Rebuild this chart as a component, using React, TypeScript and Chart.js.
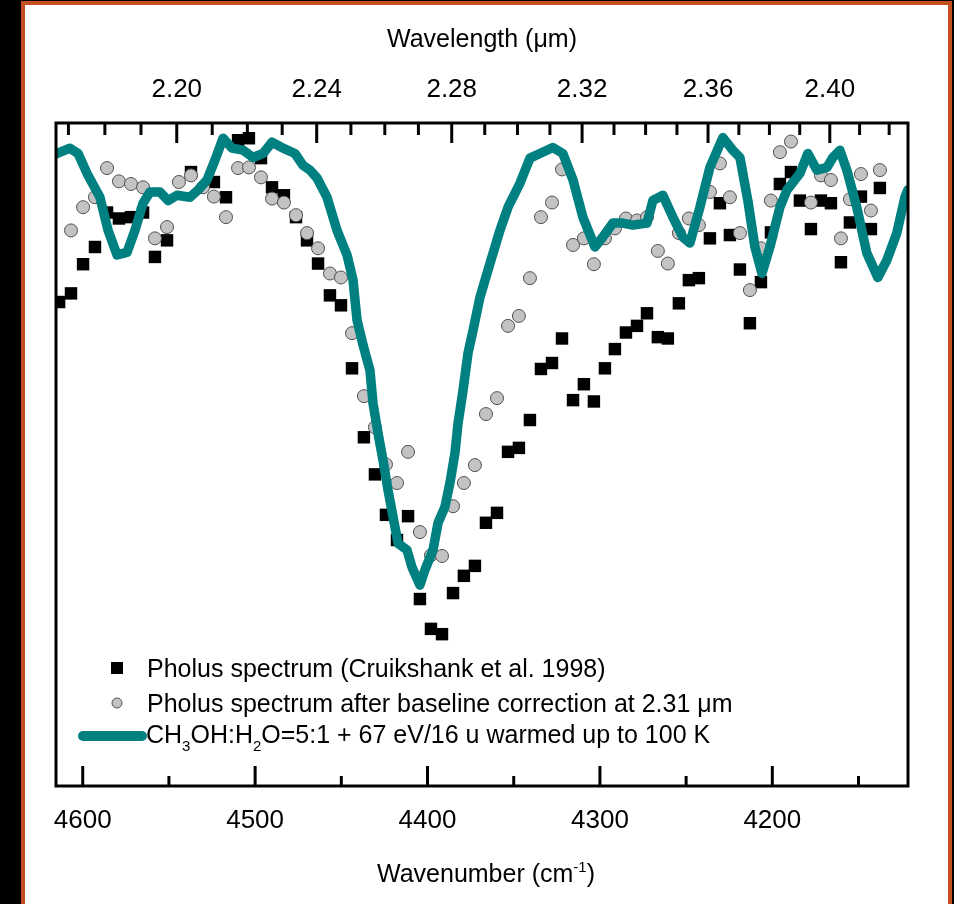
import React, { useEffect, useRef } from "react";
import { Chart, registerables } from "chart.js";

Chart.register(...registerables);

const FONT = "'Liberation Sans', Arial, Helvetica, sans-serif";

// Shared wavenumber grid of the Pholus spectrum (cm^-1)
const wavenumbers = [
  4613.7, 4606.8, 4599.8, 4592.9, 4585.9, 4579.0, 4572.0, 4565.0, 4558.1, 4551.1,
  4544.2, 4537.2, 4530.2, 4523.9, 4516.9, 4509.9, 4503.6, 4496.6, 4490.2, 4483.3,
  4476.3, 4469.9, 4463.5, 4456.6, 4450.2, 4443.8, 4436.9, 4430.5, 4424.1, 4417.7,
  4411.3, 4404.4, 4398.0, 4391.6, 4385.2, 4378.9, 4372.5, 4366.1, 4359.7, 4353.3,
  4347.0, 4340.6, 4334.2, 4327.8, 4322.0, 4315.6, 4309.3, 4303.5, 4297.1, 4291.3,
  4284.9, 4278.5, 4272.7, 4266.4, 4260.6, 4254.2, 4248.4, 4242.6, 4236.2, 4230.4,
  4224.6, 4218.8, 4213.0, 4206.6, 4200.8, 4195.6, 4189.2, 4184.0, 4177.6, 4171.8,
  4166.0, 4160.2, 4155.0, 4148.6, 4142.8, 4137.6,
];

// Pholus spectrum (Cruikshank et al. 1998), relative units
const pholusRaw = [
  73.0, 74.3, 78.7, 81.3, 86.5, 85.6, 85.8, 86.5, 79.8, 82.3,
  null, 92.6, null, 91.1, 88.8, 97.4, 97.7, 94.7, 90.3, 89.1,
  85.8, 82.3, 78.8, 74.0, 72.5, 63.0, 52.6, 47.0, 40.9, 37.1,
  40.7, 28.2, 23.7, 22.9, 29.1, 31.7, 33.2, 39.7, 41.2, 50.4,
  51.0, 55.2, 62.9, 63.8, 67.5, 58.2, 60.6, 58.0, 63.0, 65.9,
  68.4, 69.4, 71.3, 67.7, 67.5, 72.8, 76.3, 76.6, 82.6, 87.9,
  83.1, 77.9, 69.8, 76.0, 83.5, 90.8, 92.6, 88.3, 84.0, 88.3,
  87.9, 79.0, 85.0, 88.9, 84.0, 90.2,
];

// Pholus spectrum after baseline correction at 2.31 um
const pholusCorrected = [
  null, 83.8, 87.3, 88.8, 93.2, 91.2, 90.8, 90.3, 82.6, 84.3,
  91.1, 92.1, 90.3, 88.9, 85.8, 93.2, 93.3, 91.8, 88.6, 88.0,
  86.1, 83.4, 81.1, 77.3, 76.7, 68.3, 58.8, 54.1, 48.5, 45.7,
  50.4, 38.3, 34.8, 34.7, 42.2, 45.7, 48.4, 56.1, 58.5, 69.4,
  70.9, 76.6, 85.8, 88.0, 93.0, 81.6, 82.6, 78.7, 82.6, 84.1,
  85.6, 85.3, 85.8, 80.7, 78.8, 83.4, 85.6, 84.6, 89.6, 93.9,
  88.8, 83.4, 74.8, 81.1, 88.3, 95.6, 97.2, null, 88.0, 92.1,
  91.4, 82.6, 88.5, 92.3, 86.8, 92.9,
];

// Laboratory spectrum CH3OH:H2O=5:1 irradiated and warmed to 100 K
const labWavenumbers = [
  4615.1, 4607.4, 4602.7, 4597.5, 4590.0, 4585.3, 4580.1, 4574.3, 4569.7, 4565.0,
  4561.0, 4555.2, 4550.5, 4545.3, 4537.8, 4533.1, 4527.9, 4523.3, 4518.6, 4513.4,
  4507.0, 4501.2, 4495.4, 4490.2, 4483.8, 4476.9, 4472.2, 4468.2, 4464.1, 4458.3,
  4452.5, 4446.7, 4443.2, 4440.9, 4437.4, 4433.4, 4431.6, 4428.7, 4425.8, 4422.9,
  4420.0, 4417.1, 4411.9, 4409.0, 4404.4, 4401.5, 4396.8, 4393.9, 4389.9, 4387.0,
  4384.1, 4382.3, 4379.4, 4376.5, 4373.6, 4369.6, 4363.8, 4358.0, 4353.3, 4346.4,
  4340.6, 4334.8, 4327.3, 4321.5, 4315.6, 4309.9, 4302.9, 4298.3, 4292.5, 4286.7,
  4280.9, 4272.7, 4269.3, 4263.5, 4257.7, 4251.9, 4247.8, 4242.0, 4236.2, 4228.7,
  4222.9, 4218.8, 4214.2, 4210.1, 4206.0, 4201.4, 4195.6, 4191.5, 4184.0, 4179.4,
  4174.2, 4168.3, 4164.9, 4160.8, 4156.8, 4151.0, 4145.2, 4138.8, 4133.6, 4127.8,
  4123.1, 4121.4,
];
const labSpectrum = [
  95.4, 96.2, 95.4, 92.4, 88.8, 83.8, 80.1, 80.5, 83.8, 87.9,
  89.6, 89.6, 88.3, 89.1, 88.8, 89.9, 91.4, 94.4, 97.7, 96.2,
  95.9, 94.8, 95.4, 97.1, 96.2, 95.4, 93.6, 92.9, 91.7, 88.8,
  83.8, 80.1, 76.3, 70.3, 66.5, 62.7, 57.7, 53.2, 49.1, 44.6,
  40.6, 36.6, 35.6, 33.0, 30.3, 32.6, 35.6, 39.7, 42.1, 45.7,
  50.2, 54.7, 59.7, 65.3, 68.7, 73.7, 78.8, 83.8, 87.3, 90.9,
  94.7, 95.4, 96.3, 95.4, 91.4, 85.8, 81.3, 82.8, 84.9, 84.9,
  84.6, 84.9, 88.3, 89.1, 85.8, 82.8, 81.9, 87.3, 93.3, 97.8,
  95.9, 94.8, 88.3, 81.3, 77.3, 81.3, 87.3, 89.9, 92.4, 95.4,
  92.9, 93.3, 94.8, 95.9, 92.9, 87.3, 80.4, 76.7, 79.3, 83.4,
  88.8, 89.9,
];

// Axis ticks
const wavenumberTicks = [4200, 4300, 4400, 4500, 4600];
const wavenumberMinorTicks = [4150, 4250, 4350, 4450, 4550];
const wavelengthTicks = [2.2, 2.24, 2.28, 2.32, 2.36, 2.4];
const wavelengthMinorTicks = [
  2.17, 2.18, 2.19, 2.21, 2.22, 2.23, 2.25, 2.26, 2.27, 2.29, 2.3, 2.31,
  2.33, 2.34, 2.35, 2.37, 2.38, 2.39, 2.41, 2.42,
];
const xRange = [4121.3, 4615.5];
const yRange = [0, 100];

// Texts ("_{..}" = subscript, "^{..}" = superscript)
const topTitle = "Wavelength (\u03bcm)";
const bottomTitle = "Wavenumber (cm^{-1})";
const rawLabel = "Pholus spectrum (Cruikshank et al. 1998)";
const correctedLabel = "Pholus spectrum after baseline correction at 2.31 \u03bcm";
const labLabel = "CH_{3}OH:H_{2}O=5:1 + 67 eV/16 u warmed up to 100 K";

const TEAL = "#008080";

function drawRich(ctx: CanvasRenderingContext2D, text: string, x: number, y: number, size: number, align: "left" | "center" = "left") {
  const re = /([_^])\{([^}]*)\}/g;
  const segs: { t: string; k: string }[] = [];
  let last = 0;
  let m: RegExpExecArray | null;
  while ((m = re.exec(text))) {
    if (m.index > last) segs.push({ t: text.slice(last, m.index), k: "" });
    segs.push({ t: m[2], k: m[1] });
    last = re.lastIndex;
  }
  if (last < text.length) segs.push({ t: text.slice(last), k: "" });
  const widths = segs.map((s) => {
    ctx.font = `${s.k ? Math.round(size * 0.6) : size}px ${FONT}`;
    return ctx.measureText(s.t).width;
  });
  let cx = align === "center" ? x - widths.reduce((a, b) => a + b, 0) / 2 : x;
  ctx.textAlign = "left";
  ctx.textBaseline = "alphabetic";
  segs.forEach((s, i) => {
    ctx.font = `${s.k ? Math.round(size * 0.6) : size}px ${FONT}`;
    const dy = s.k === "_" ? size * 0.32 : s.k === "^" ? -size * 0.42 : 0;
    ctx.fillText(s.t, cx, y + dy);
    cx += widths[i];
  });
}

const decorPlugin = {
  id: "decor",
  afterDraw(chart: any) {
    const { ctx, chartArea } = chart;
    const { left, right, top, bottom } = chartArea;
    const xs = chart.scales.x;
    const x2 = chart.scales.x2;
    ctx.save();
    ctx.strokeStyle = "#000";
    ctx.fillStyle = "#000";
    ctx.lineWidth = 3;
    ctx.lineCap = "butt";
    // ticks
    const tick = (px: number, y0: number, len: number) => {
      ctx.beginPath();
      ctx.moveTo(px, y0);
      ctx.lineTo(px, y0 + len);
      ctx.stroke();
    };
    wavenumberTicks.forEach((v) => tick(xs.getPixelForValue(v), bottom, -20));
    wavenumberMinorTicks.forEach((v) => tick(xs.getPixelForValue(v), bottom, -10));
    wavelengthTicks.forEach((l) => tick(x2.getPixelForValue(10000 / l), top, 20));
    wavelengthMinorTicks.forEach((l) => tick(x2.getPixelForValue(10000 / l), top, 12));
    // frame
    ctx.strokeRect(left, top, right - left, bottom - top);

    // bottom axis title
    drawRich(ctx, bottomTitle, (left + right) / 2 + 4, 882, 25, "center");

    // legend
    const ds = chart.data.datasets;
    const mx = left + 61;
    const tx = left + 91;
    // square
    ctx.fillStyle = ds[2].backgroundColor;
    ctx.fillRect(mx - 6, bottom - 124, 12, 12);
    ctx.fillStyle = "#000";
    drawRich(ctx, ds[2].label, tx, bottom - 109, 25);
    // circle
    ctx.beginPath();
    ctx.arc(mx, bottom - 83, 5, 0, Math.PI * 2);
    ctx.fillStyle = ds[1].backgroundColor;
    ctx.fill();
    ctx.lineWidth = 1;
    ctx.strokeStyle = ds[1].borderColor;
    ctx.stroke();
    ctx.fillStyle = "#000";
    drawRich(ctx, ds[1].label, tx, bottom - 74, 25);
    // line
    ctx.beginPath();
    ctx.moveTo(left + 27, bottom - 50);
    ctx.lineTo(left + 86, bottom - 50);
    ctx.lineWidth = 10;
    ctx.lineCap = "round";
    ctx.strokeStyle = ds[0].borderColor;
    ctx.stroke();
    ctx.fillStyle = "#000";
    drawRich(ctx, ds[0].label, left + 90, bottom - 43, 25);
    ctx.restore();
  },
};

export default function App() {
  const ref = useRef<HTMLCanvasElement>(null);
  useEffect(() => {
    const canvas = ref.current!;
    const pts = (xs: number[], ys: (number | null)[]) =>
      xs.map((x, i) => ({ x, y: ys[i] })).filter((p) => p.y !== null);
    const chart = new Chart(canvas, {
      type: "scatter",
      data: {
        datasets: [
          {
            label: labLabel,
            data: pts(labWavenumbers, labSpectrum) as any,
            showLine: true,
            borderColor: TEAL,
            backgroundColor: TEAL,
            borderWidth: 9.5,
            pointRadius: 0,
            borderJoinStyle: "round",
            borderCapStyle: "round",
            tension: 0,
            order: 0,
          },
          {
            label: correctedLabel,
            data: pts(wavenumbers, pholusCorrected) as any,
            pointStyle: "circle",
            pointRadius: 6.5,
            backgroundColor: "#c3c3c3",
            borderColor: "#505050",
            borderWidth: 1,
            order: 1,
            clip: 0,
          },
          {
            label: rawLabel,
            data: pts(wavenumbers, pholusRaw) as any,
            pointStyle: "rect",
            pointRadius: 8.8,
            backgroundColor: "#000000",
            borderWidth: 0,
            order: 2,
            clip: 0,
          },
        ],
      },
      options: {
        responsive: false,
        devicePixelRatio: 1,
        animation: false,
        layout: { padding: { left: 56, right: 46, top: 0, bottom: 0 } },
        plugins: { legend: { display: false }, tooltip: { enabled: false } },
        scales: {
          x: {
            type: "linear",
            position: "bottom",
            reverse: true,
            min: xRange[0],
            max: xRange[1],
            grid: { display: false, drawTicks: false },
            border: { display: false },
            afterFit: (s: any) => {
              s.height = 118;
            },
            afterBuildTicks: (s: any) => {
              s.ticks = wavenumberTicks.map((v) => ({ value: v }));
            },
            ticks: {
              color: "#000",
              padding: 19,
              maxRotation: 0,
              autoSkip: false,
              font: { family: FONT, size: 26 },
              callback: (v: any) => String(v),
            },
          },
          x2: {
            type: "linear",
            position: "top",
            reverse: true,
            min: xRange[0],
            max: xRange[1],
            grid: { display: false, drawTicks: false },
            border: { display: false },
            afterFit: (s: any) => {
              s.height = 123;
            },
            afterBuildTicks: (s: any) => {
              s.ticks = wavelengthTicks
                .map((l) => ({ value: 10000 / l }))
                .sort((a, b) => a.value - b.value);
            },
            ticks: {
              color: "#000",
              padding: 18,
              maxRotation: 0,
              autoSkip: false,
              font: { family: FONT, size: 26 },
              callback: (v: any) => (10000 / Number(v)).toFixed(2),
            },
            title: {
              display: true,
              text: topTitle,
              color: "#000",
              font: { family: FONT, size: 25 },
              padding: { top: 25, bottom: 0 },
            },
          },
          y: {
            type: "linear",
            display: false,
            min: yRange[0],
            max: yRange[1],
          },
        },
      },
      plugins: [decorPlugin],
    } as any);
    return () => chart.destroy();
  }, []);

  return (
    <div
      style={{
        position: "fixed",
        left: 0,
        top: 0,
        width: 954,
        height: 904,
        background: "#000",
        overflow: "hidden",
      }}
    >
      <div
        style={{
          position: "absolute",
          left: 21,
          top: 1,
          width: 931,
          height: 960,
          boxSizing: "border-box",
          border: "4px solid #c5501f",
          background: "#fff",
        }}
      />
      <canvas
        ref={ref}
        width={954}
        height={904}
        style={{ position: "absolute", left: 0, top: 0, width: 954, height: 904 }}
      />
    </div>
  );
}
